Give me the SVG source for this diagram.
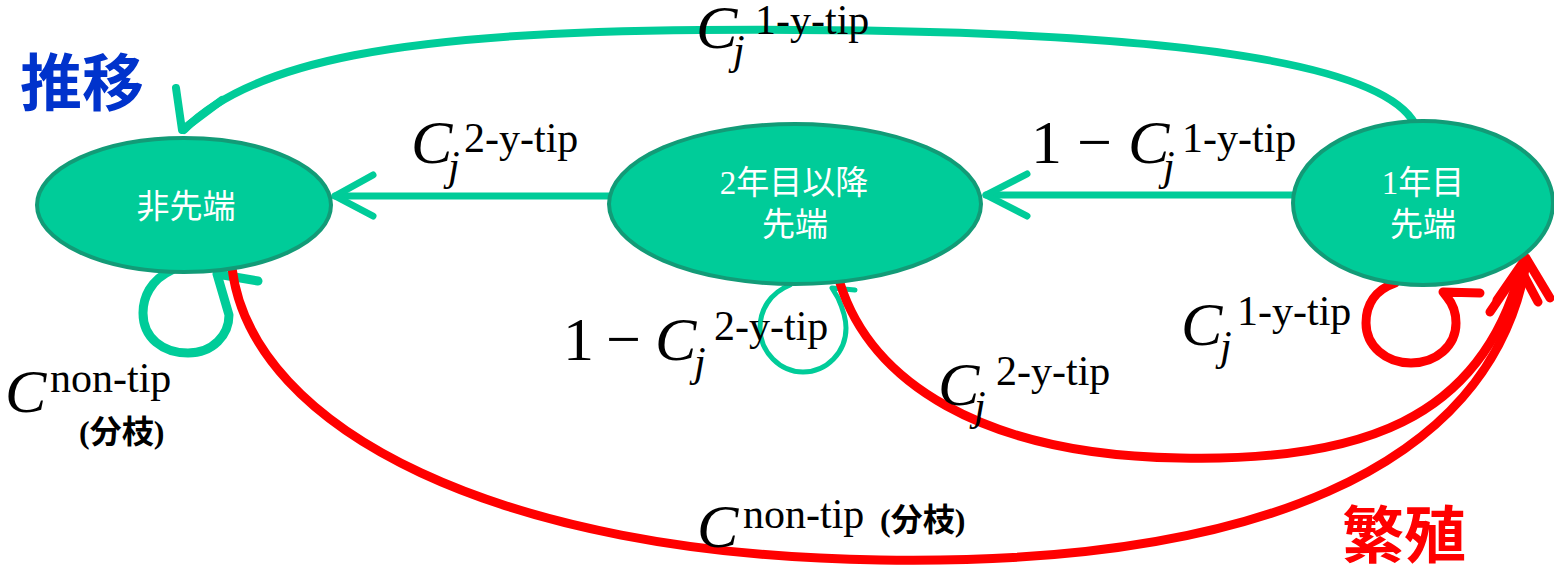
<svg xmlns="http://www.w3.org/2000/svg" width="1554" height="573" viewBox="0 0 1554 573">
<style>
.node{fill:#00CC99;stroke:#129B77;stroke-width:4}
.nt{fill:#fff;font-family:"Liberation Serif","Noto Sans CJK JP",serif;font-size:33px;text-anchor:middle}
.g{fill:none;stroke:#00CC99;stroke-linecap:round;stroke-linejoin:round}
.r{fill:none;stroke:#FF0000;stroke-width:9;stroke-linecap:round;stroke-linejoin:round}
.m{font-family:"Liberation Serif","Noto Sans CJK JP",serif;fill:#000}
.big{font-size:62px}
.sc{font-size:42px}
.it{font-style:italic}
.cjk{font-family:"Liberation Serif","Noto Sans CJK JP",sans-serif;font-size:32px;font-weight:bold}
.title{font-family:"Noto Sans CJK JP",sans-serif;font-size:62px;font-weight:bold}
</style>
<rect width="1554" height="573" fill="#fff"/>
<g id="connectors">
  <path class="g" stroke-width="8" d="M1415,124 C1370,40 1000,28 700,30 C400,32 250,62 184,130"/>
  <polyline class="g" stroke-width="8" points="176,88 182,130 222,100"/>
  <line class="g" stroke-width="7" x1="1295" y1="195" x2="986" y2="195"/>
  <polyline class="g" stroke-width="7" points="1027,174 986,195 1027,216"/>
  <line class="g" stroke-width="7" x1="612" y1="196" x2="335" y2="196"/>
  <polyline class="g" stroke-width="7" points="373,175 335,196 373,216"/>
  <path class="g" stroke-width="9" d="M172,270 C150,280 143,298 143,313 C143,338 163,353 188,353 C213,353 229,335 229,315 L217,274 L258,281"/>
  <path class="g" stroke-width="5" d="M790,285 C770,293 760,310 760,328 C760,352 780,372 803,372 C827,372 846,352 846,328 C846,318 843,309 838,298 L832,288 L855,290"/>
  <path class="r" d="M232,268 C252,430 500,555 880,560 C1250,566 1490,470 1526,264"/>
  <path class="r" d="M840,283 C870,380 980,455 1180,458 C1360,462 1480,420 1520,272"/>
  <polyline class="r" points="1497,300 1526,258 1550,298"/>
  <polyline class="r" points="1490,312 1520,268 1538,302"/>
  <path class="r" d="M1395,283 C1375,290 1366,305 1366,323 C1366,346 1386,363 1411,363 C1436,363 1456,346 1456,323 C1456,312 1452,303 1447,297 L1443,292 L1480,293"/>
</g>
<g id="node-nonTip">
  <ellipse class="node" cx="184" cy="205" rx="147" ry="67"/>
  <text class="nt" x="186" y="218">非先端</text>
</g>
<g id="node-2y">
  <ellipse class="node" cx="795" cy="204" rx="186" ry="80"/>
  <text class="nt" x="794" y="194">2年目以降</text>
  <text class="nt" x="795" y="236">先端</text>
</g>
<g id="node-1y">
  <ellipse class="node" cx="1423" cy="203" rx="130" ry="82"/>
  <text class="nt" x="1423" y="194">1年目</text>
  <text class="nt" x="1423" y="236">先端</text>
</g>
<g id="labels">
  <text class="m big it" x="696" y="48">C</text>
  <text class="m sc it" x="733" y="64">j</text>
  <text class="m sc" x="755" y="34">1-y-tip</text>
  <text class="m big it" x="411" y="163">C</text>
  <text class="m sc it" x="448" y="180">j</text>
  <text class="m sc" x="464" y="152">2-y-tip</text>
  <text class="m big" x="1031" y="163">1</text>
  <text class="m big" x="1077" y="163">−</text>
  <text class="m big it" x="1128" y="163">C</text>
  <text class="m sc it" x="1163" y="180">j</text>
  <text class="m sc" x="1182" y="152">1-y-tip</text>
  <text class="m big" x="563" y="360">1</text>
  <text class="m big" x="606" y="360">−</text>
  <text class="m big it" x="655" y="360">C</text>
  <text class="m sc it" x="694" y="376">j</text>
  <text class="m sc" x="714" y="340">2-y-tip</text>
  <text class="m big it" x="938" y="405">C</text>
  <text class="m sc it" x="974" y="420">j</text>
  <text class="m sc" x="996" y="385">2-y-tip</text>
  <text class="m big it" x="1181" y="345">C</text>
  <text class="m sc it" x="1220" y="360">j</text>
  <text class="m sc" x="1237" y="325">1-y-tip</text>
  <text class="m big it" x="5" y="412">C</text>
  <text class="m sc" x="50" y="392">non-tip</text>
  <text class="m cjk" x="79" y="443">(分枝)</text>
  <text class="m big it" x="697" y="547">C</text>
  <text class="m sc" x="743" y="528">non-tip</text>
  <text class="m cjk" x="880" y="531">(分枝)</text>
  <text class="title" x="20" y="106" fill="#0033CC">推移</text>
  <text class="title" x="1342" y="558" fill="#FF0000">繁殖</text>
</g>
</svg>
